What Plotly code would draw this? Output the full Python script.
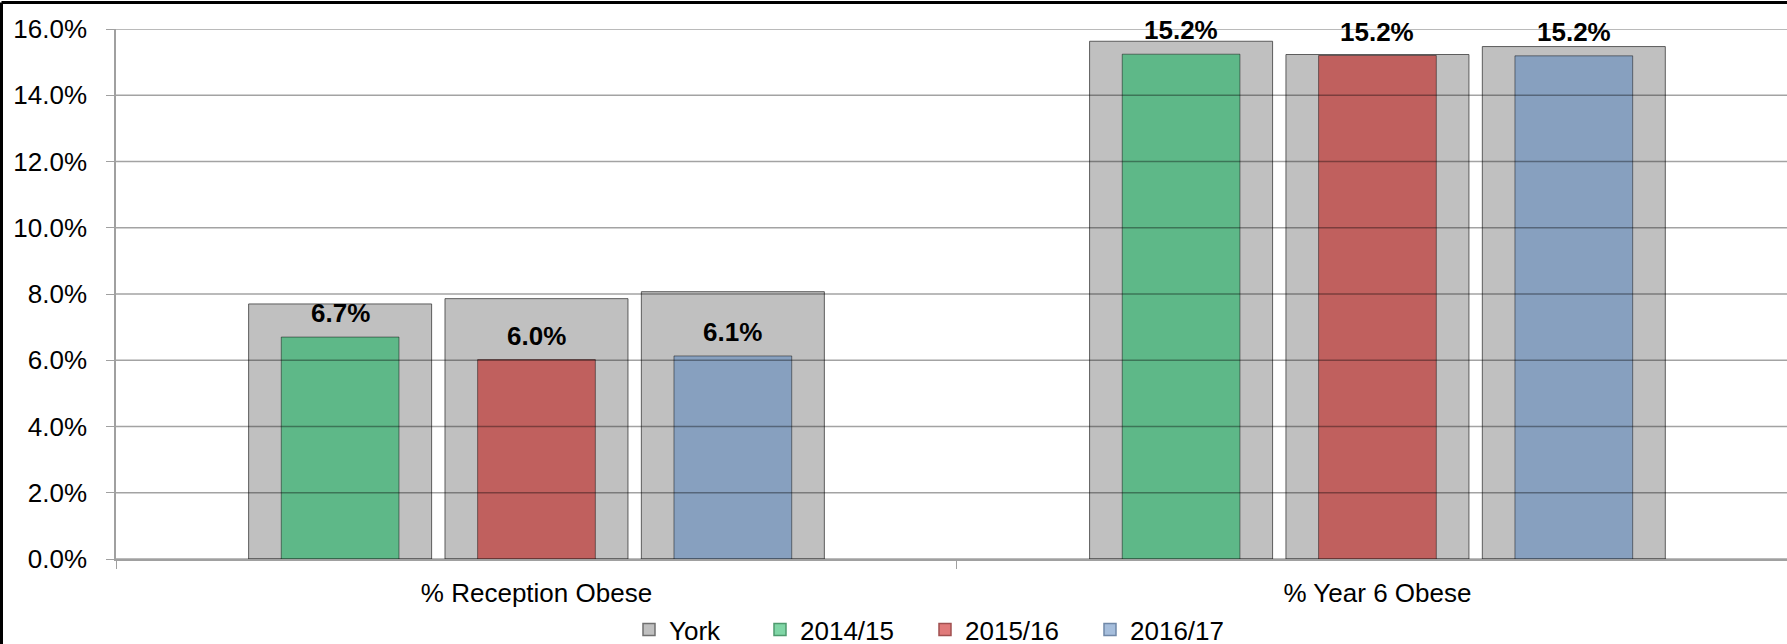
import plotly.graph_objects as go

categories = ["% Reception Obese", "% Year 6 Obese"]
years = ["2014/15", "2015/16", "2016/17"]

# York (grey, wide bars) per year: [Reception, Year 6]
york_2014_15 = [7.70, 15.63]
york_2015_16 = [7.86, 15.23]
york_2016_17 = [8.07, 15.47]

# Yearly series (coloured bars): [Reception, Year 6]
val_2014_15 = [6.70, 15.24]
val_2015_16 = [6.02, 15.20]
val_2016_17 = [6.13, 15.19]

y_ticks = [0, 2, 4, 6, 8, 10, 12, 14, 16]

york_series = [york_2014_15, york_2015_16, york_2016_17]
year_series = [val_2014_15, val_2015_16, val_2016_17]

bar_colors = ["#5EB888", "#C0605E", "#87A0BF"]
legend_colors = ["#80D6A6", "#E07A7A", "#A6BEDC"]
legend_lines = ["#4E9A6E", "#A05050", "#7088A8"]

FONT = "Liberation Sans, Arial, sans-serif"

W, H = 1787, 644
ML, MR, MT, MB = 116, 0, 29, 85
x_range = [-0.5, 1.487]
px_per_cat = (W - ML - MR) / (x_range[1] - x_range[0])

grey_width = 0.2176
grey_offsets = [-0.3423, -0.1088, 0.1247]
col_width = 0.14
col_centers = [-0.2335, 0.0, 0.2335]
col_offsets = [c - col_width / 2 for c in col_centers]

fig = go.Figure()

for i, vals in enumerate(york_series):
    fig.add_trace(go.Bar(
        x=categories, y=vals, name="York", showlegend=False,
        width=grey_width, offset=grey_offsets[i],
        marker=dict(color="#C0C0C0", line=dict(color="rgba(60,60,60,0.8)", width=1)),
        hoverinfo="skip",
    ))

annotations = []
for i, vals in enumerate(year_series):
    fig.add_trace(go.Bar(
        x=categories, y=vals, name=years[i], showlegend=False,
        width=col_width, offset=col_offsets[i],
        marker=dict(color=bar_colors[i], line=dict(color="rgba(0,0,0,0.45)", width=1)),
    ))
    for cat, v in zip(categories, vals):
        annotations.append(dict(
            x=cat, y=v, xref="x", yref="y", text=f"{v:.1f}%", showarrow=False,
            xshift=col_centers[i] * px_per_cat, yshift=24, yanchor="middle", xanchor="center",
            font=dict(family=FONT, size=26, color="black", weight="bold"),
        ))

# legend entries
fig.add_trace(go.Bar(x=[None], y=[None], name="York", legendwidth=86,
                     marker=dict(color="#C0C0C0", line=dict(color="#707070", width=1.5))))
for i, yname in enumerate(years):
    fig.add_trace(go.Bar(x=[None], y=[None], name=yname, legendwidth=120,
                         marker=dict(color=legend_colors[i], line=dict(color=legend_lines[i], width=1.5))))

shapes = []
for t in y_ticks:
    shapes.append(dict(type="line", xref="paper", yref="y", x0=0, x1=1, y0=t, y1=t,
                       line=dict(color="rgba(0,0,0,0.36)", width=1.6), layer="above"))
# chart border (top and left)
plot_w = W - ML - MR
plot_h = H - MT - MB
bx = (1.5 - ML) / plot_w
by = 1 + (MT - 2.5) / plot_h
shapes.append(dict(type="line", xref="paper", yref="paper", x0=bx, x1=1.2, y0=by, y1=by,
                   line=dict(color="black", width=3)))
shapes.append(dict(type="line", xref="paper", yref="paper", x0=bx, x1=bx, y0=by, y1=-0.3,
                   line=dict(color="black", width=3)))

fig.update_layout(
    width=W, height=H,
    margin=dict(l=ML, r=MR, t=MT, b=MB, autoexpand=False),
    paper_bgcolor="white", plot_bgcolor="white",
    barmode="overlay",
    font=dict(family=FONT, size=26, color="black"),
    shapes=shapes,
    annotations=annotations,
    showlegend=True,
    legend=dict(orientation="h", x=0.307, xanchor="left", y=-0.133, yanchor="middle",
                font=dict(family=FONT, size=26, color="black"), traceorder="normal",
                bgcolor="rgba(0,0,0,0)"),
    xaxis=dict(type="category", categoryorder="array", categoryarray=categories,
               range=x_range, showgrid=False, showline=True, linecolor="#A0A0A0", linewidth=1.5,
               ticks="outside", tickson="boundaries", ticklen=8, tickcolor="#A0A0A0", automargin=False,
               tickfont=dict(family=FONT, size=26, color="black"), ticklabelstandoff=10),
    yaxis=dict(range=[0, 16], tickvals=y_ticks, ticktext=[f"{v:.1f}%" for v in y_ticks],
               showgrid=False, zeroline=False, showline=True, linecolor="#A0A0A0", linewidth=1.5,
               ticks="outside", ticklen=8, tickcolor="#A0A0A0", automargin=False,
               tickfont=dict(family=FONT, size=26, color="black"), ticklabelstandoff=14),
)

fig.write_html("out.html", config={"displayModeBar": False},
               post_script="document.body.style.margin='0';document.body.style.overflow='hidden';")
